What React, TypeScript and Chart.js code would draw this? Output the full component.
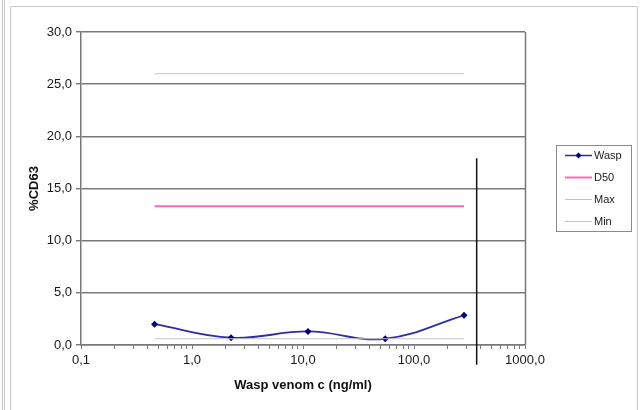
import React, { useEffect, useRef } from "react";
import { Chart, registerables } from "chart.js";
Chart.register(...registerables);

// ---- data ----
const waspConc = [0.46, 2.25, 11.1, 55, 282];
const waspCD63 = [2.0, 0.7, 1.3, 0.6, 2.85];
const refConc = [0.46, 282];
const d50Value = 13.3;
const maxValue = 26.0;
const minValue = 0.6;
const cutoffConc = 367;
const cutoffRange = [17.9, -1.9];
const legendLabels = ["Wasp", "D50", "Max", "Min"];
const xMajorTicks = [0.1, 1, 10, 100, 1000];
const xMinorMultipliers = [2, 3, 4, 5, 6, 7, 8, 9];
const yMin = 0;
const yMax = 30;
const yStep = 5;

const WASP_LINE = "#2e2ea0";
const WASP_POINT = "#000080";
const PINK = "#ff66b3";
const GRAY = "#c4c4c4";
const AXIS = "#787878";
const FONT = "'Liberation Sans', Arial, sans-serif";

const fmt = (v: number) => v.toFixed(1).replace(".", ",");

const xTickValues: number[] = [];
xMajorTicks.forEach((m, i) => {
  xTickValues.push(m);
  if (i < xMajorTicks.length - 1) xMinorMultipliers.forEach((k) => xTickValues.push(+(m * k).toPrecision(6)));
});

const decor = {
  id: "decor",
  afterDraw(chart: any) {
    const ctx = chart.ctx;
    const a = chart.chartArea;
    ctx.save();
    // right border of plot
    ctx.strokeStyle = AXIS;
    ctx.lineWidth = 1.5;
    ctx.beginPath();
    ctx.moveTo(Math.round(a.right) + 0.5, a.top);
    ctx.lineTo(Math.round(a.right) + 0.5, a.bottom);
    ctx.stroke();

    // outer frames
    ctx.strokeStyle = "#c8c8c8";
    ctx.lineWidth = 1;
    ctx.beginPath();
    ctx.moveTo(2.5, 0);
    ctx.lineTo(2.5, 410);
    ctx.moveTo(4.5, 0);
    ctx.lineTo(4.5, 410);
    ctx.moveTo(10.5, 6.5);
    ctx.lineTo(10.5, 410);
    ctx.moveTo(10.5, 6.5);
    ctx.lineTo(637.5, 6.5);
    ctx.lineTo(637.5, 410);
    ctx.stroke();

    // legend
    const lx = 556.5, ly = 145.5, lw = 75, lh = 86;
    ctx.strokeStyle = "#8c8c8c";
    ctx.lineWidth = 1;
    ctx.strokeRect(lx, ly, lw, lh);
    const rows = [155, 177, 199, 221];
    const colors = [WASP_LINE, PINK, GRAY, GRAY];
    const widths = [1.5, 2, 1, 1];
    ctx.font = `11px ${FONT}`;
    ctx.textBaseline = "middle";
    ctx.textAlign = "left";
    legendLabels.forEach((lab, i) => {
      const y = rows[i] + 0.5;
      ctx.strokeStyle = colors[i];
      ctx.lineWidth = widths[i];
      ctx.beginPath();
      ctx.moveTo(565, y);
      ctx.lineTo(592, y);
      ctx.stroke();
      if (i === 0) {
        ctx.fillStyle = WASP_POINT;
        ctx.beginPath();
        ctx.moveTo(578.5, y - 3);
        ctx.lineTo(581.5, y);
        ctx.lineTo(578.5, y + 3);
        ctx.lineTo(575.5, y);
        ctx.closePath();
        ctx.fill();
      }
      ctx.fillStyle = "#1a1a1a";
      ctx.fillText(lab, 594, y);
    });
    ctx.restore();
  },
};

export default function App() {
  const ref = useRef<HTMLCanvasElement | null>(null);
  useEffect(() => {
    if (!ref.current) return;
    const chart = new Chart(ref.current, {
      type: "line",
      data: {
        datasets: [
          {
            label: "Cutoff",
            data: [
              { x: cutoffConc, y: cutoffRange[0] },
              { x: cutoffConc, y: cutoffRange[1] },
            ],
            borderColor: "#111",
            borderWidth: 1.5,
            pointRadius: 0,
            clip: false as any,
          },
          {
            label: legendLabels[3],
            data: refConc.map((x) => ({ x, y: minValue })),
            borderColor: GRAY,
            borderWidth: 1,
            pointRadius: 0,
          },
          {
            label: legendLabels[2],
            data: refConc.map((x) => ({ x, y: maxValue })),
            borderColor: GRAY,
            borderWidth: 1,
            pointRadius: 0,
          },
          {
            label: legendLabels[1],
            data: refConc.map((x) => ({ x, y: d50Value })),
            borderColor: PINK,
            borderWidth: 2,
            pointRadius: 0,
          },
          {
            label: legendLabels[0],
            data: waspConc.map((x, i) => ({ x, y: waspCD63[i] })),
            borderColor: WASP_LINE,
            borderWidth: 1.8,
            tension: 0.4,
            pointStyle: "rectRot",
            pointRadius: 3.5,
            pointBackgroundColor: WASP_POINT,
            pointBorderColor: WASP_POINT,
            pointBorderWidth: 0,
          },
        ],
      },
      options: {
        animation: false,
        responsive: false,
        layout: { padding: { left: 0, top: 32, right: 115, bottom: 0 } },
        plugins: { legend: { display: false }, tooltip: { enabled: false } },
        scales: {
          x: {
            type: "logarithmic",
            min: 0.1,
            max: 1000,
            afterBuildTicks: (s: any) => {
              s.ticks = xTickValues.map((v) => ({ value: v, major: xMajorTicks.includes(v) }));
            },
            afterFit: (s: any) => {
              s.height = 65;
            },
            ticks: {
              autoSkip: false,
              maxRotation: 0,
              padding: 4,
              color: "#1a1a1a",
              font: { family: FONT, size: 13 },
              callback: (v: any) => (xMajorTicks.includes(Number(v)) ? fmt(Number(v)) : ""),
            },
            grid: {
              drawOnChartArea: false,
              drawTicks: true,
              tickLength: 4,
              color: AXIS,
            },
            border: { color: AXIS, width: 1.5 },
            title: {
              display: true,
              text: "Wasp venom c (ng/ml)",
              color: "#111",
              font: { family: FONT, size: 13, weight: "bold" },
              padding: { top: 0, bottom: 17 },
            },
          },
          y: {
            min: yMin,
            max: yMax,
            afterFit: (s: any) => {
              s.width = 81;
            },
            ticks: {
              stepSize: yStep,
              padding: 4,
              color: "#1a1a1a",
              font: { family: FONT, size: 13 },
              callback: (v: any) => fmt(Number(v)),
            },
            grid: {
              color: AXIS,
              lineWidth: 1.4,
              drawTicks: true,
              tickLength: 5,
            },
            border: { color: AXIS, width: 1.5 },
            title: {
              display: true,
              text: "%CD63",
              color: "#111",
              font: { family: FONT, size: 13, weight: "bold" },
              padding: { top: 27, bottom: 0 },
            },
          },
        },
      },
      plugins: [decor],
    });
    return () => chart.destroy();
  }, []);
  return (
    <div style={{ position: "fixed", left: 0, top: 0, width: 640, height: 410, background: "#fff" }}>
      <canvas ref={ref} width={640} height={410} style={{ width: 640, height: 410, display: "block" }} />
    </div>
  );
}
